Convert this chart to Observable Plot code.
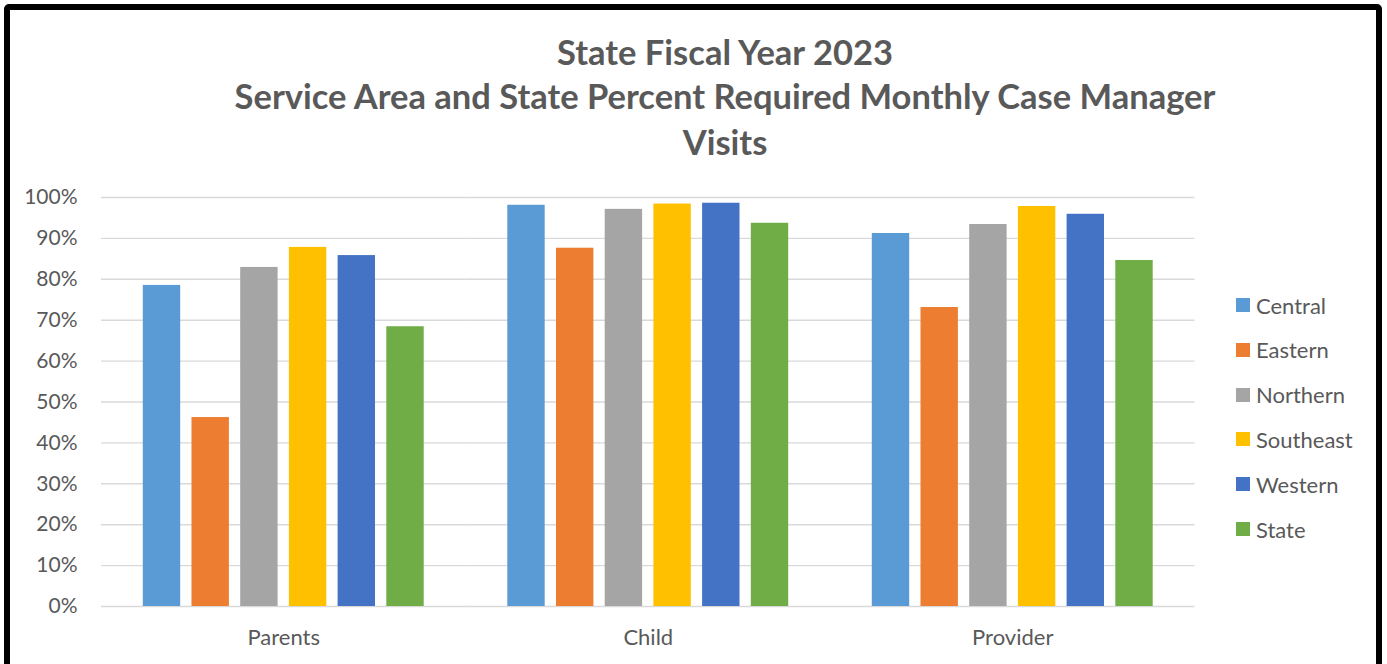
<!DOCTYPE html>
<html>
<head>
<meta charset="utf-8">
<script src="https://cdn.jsdelivr.net/npm/d3@7"></script>
<script src="https://cdn.jsdelivr.net/npm/@observablehq/plot@0.6"></script>
<style>
  html, body { margin: 0; padding: 0; background: #fff; overflow: hidden; }
  #wrap { position: relative; width: 1387px; height: 664px; overflow: hidden; font-family: Lato, "Open Sans", sans-serif; color: #595959; }
  #frame { position: absolute; left: 4px; top: 4px; width: 1366px; height: 720px; border: 6px solid #000; border-radius: 5px; box-sizing: content-box; }
  #chart { position: absolute; left: 0; top: 0; }
  .title { position: absolute; left: 0; width: 1450px; text-align: center; font-weight: 700; font-size: 34.5px; color: #595959; white-space: nowrap; line-height: 1; }
  #legend { position: absolute; left: 1236px; top: 0; }
  .item { position: absolute; left: 0; display: flex; align-items: center; white-space: nowrap; font-size: 22px; color: #595959; }
  .sw { width: 14px; height: 14px; margin-right: 6px; flex: none; }
</style>
</head>
<body>
<div id="wrap">
  <div id="frame"></div>
  <div id="chart"></div>
  <div class="title" id="t1" style="top:35px">State Fiscal Year 2023</div>
  <div class="title" id="t2" style="top:79px">Service Area and State Percent Required Monthly Case Manager</div>
  <div class="title" id="t3" style="top:125px">Visits</div>
  <div id="legend"></div>
</div>
<script>
const categories = ["Parents", "Child", "Provider"];
const series = ["Central", "Eastern", "Northern", "Southeast", "Western", "State"];
const colors = ["#5b9bd5", "#ed7d31", "#a5a5a5", "#ffc000", "#4472c4", "#70ad47"];
const parentsValues = [78.5, 46.2, 82.9, 87.8, 85.8, 68.4];
const childValues = [98.1, 87.6, 97.1, 98.4, 98.6, 93.7];
const providerValues = [91.2, 73.1, 93.4, 97.8, 95.9, 84.6];
const yTicks = [0, 10, 20, 30, 40, 50, 60, 70, 80, 90, 100];

const valuesByCategory = { Parents: parentsValues, Child: childValues, Provider: providerValues };
const data = [];
for (const c of categories) {
  series.forEach((s, i) => data.push({ category: c, series: s, value: valuesByCategory[c][i] }));
}

const chart = Plot.plot({
  width: 1387,
  height: 664,
  marginLeft: 101,
  marginRight: 192.5,
  marginTop: 197,
  marginBottom: 58,
  style: { fontFamily: "Lato, 'Open Sans', sans-serif", color: "#595959", background: "transparent", overflow: "visible" },
  fx: { domain: categories, padding: 0, round: false, label: null },
  x: { domain: series, paddingInner: 0.232, paddingOuter: 0.858, round: false, axis: null },
  y: { domain: [0, 100], label: null },
  color: { domain: series, range: colors },
  marks: [
    Plot.ruleY(yTicks, { stroke: "#d9d9d9", strokeWidth: 1.4 }),
    Plot.barY(data, { fx: "category", x: "series", y: "value", fill: "series" }),
    Plot.axisY({ ticks: yTicks, tickFormat: d => d + "%", tickSize: 0, tickPadding: 24, fontSize: 21, label: null, fill: "#595959" }),
    Plot.axisFx({ anchor: "bottom", tickSize: 0, tickPadding: 23, fontSize: 22, label: null, fill: "#595959" })
  ]
});
document.getElementById("chart").appendChild(chart);

// Legend built from the chart's colour scale
const cs = chart.scale("color");
const legend = document.getElementById("legend");
const legendTop = 305, legendStep = 44.8;
cs.domain.forEach((name, i) => {
  const item = document.createElement("div");
  item.className = "item";
  item.style.top = (legendTop + i * legendStep - 13) + "px";
  item.style.height = "26px";
  const sw = document.createElement("div");
  sw.className = "sw";
  sw.style.background = cs.apply(name);
  const label = document.createElement("span");
  label.textContent = name;
  item.appendChild(sw);
  item.appendChild(label);
  legend.appendChild(item);
});
</script>
</body>
</html>
